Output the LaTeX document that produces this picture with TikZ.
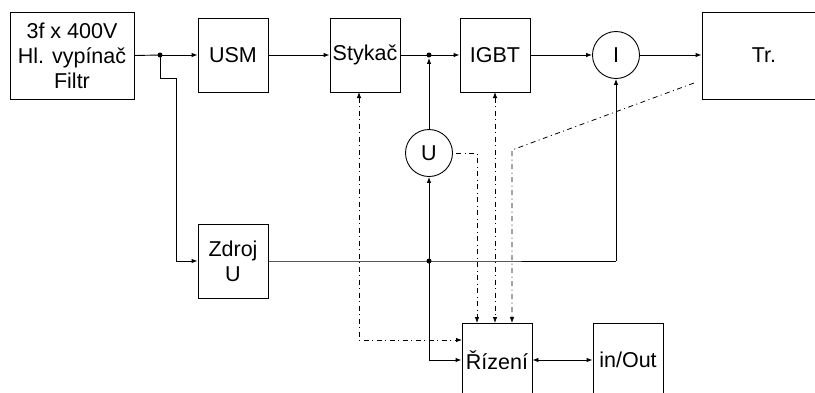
\documentclass[tikz,border=0pt]{standalone}
\usepackage{fontspec}
\setmainfont{Liberation Sans}
\usetikzlibrary{arrows.meta}
\begin{document}
\begin{tikzpicture}[x=1pt,y=-1pt,
  font=\fontsize{21.5}{25}\selectfont,
  line width=0.9pt,
  blk/.style={draw, rectangle, minimum width=70pt, minimum height=74pt, inner sep=1pt, align=center},
  meas/.style={draw, circle, minimum size=47pt, inner sep=0pt},
  arr/.style={-{Latex[length=6pt,width=4.5pt]}},
  darr/.style={{Latex[length=6pt,width=4.5pt]}-{Latex[length=6pt,width=4.5pt]}},
  dd/.style={line width=0.8pt, dash pattern=on 5pt off 3.5pt on 1pt off 3.5pt},
  jdot/.style={fill, circle, inner sep=0pt, minimum size=5pt}]
\useasboundingbox (0,0) rectangle (815,392);

\node[blk, minimum width=124pt, minimum height=87pt] (in) at (72,55.5) {3f x 400V\\Hl. vypínač\\Filtr};
\node[blk] (usm) at (233,55) {USM};
\node[blk] (styk) at (365,55) {Stykač};
\node[blk] (igbt) at (495,55) {IGBT};
\node[meas] (I) at (616,55) {I};
\node[blk, minimum width=124pt, minimum height=87pt] (tr) at (764,55.5) {Tr.};
\node[meas] (U) at (429,153) {U};
\node[blk] (zdroj) at (233,261) {Zdroj\\U};
\node[blk] (riz) at (497,360) {Řízení};
\node[blk] (io) at (628,360) {in/Out};

\node[jdot] (j1) at (160,55) {};
\node[jdot] (j2) at (429,55) {};
\node[jdot] (j3) at (429,261) {};

\coordinate (b1) at (160,78);
\coordinate (b2) at (176,78);
\coordinate (b3) at (176,261);
\coordinate (k1) at (616,261);
\coordinate (k2) at (429,360);

% power path
\draw (in.east) -- (j1.center);
\draw[arr] (j1.center) -- (usm.west);
\draw[arr] (usm) -- (styk);
\draw (styk.east) -- (j2.center);
\draw[arr] (j2.center) -- (igbt.west);
\draw[arr] (igbt) -- (I);
\draw[arr] (I) -- (tr.west |- I.east);
\draw[arr] (U.north) -- (j2.south);

% supply branch
\draw[arr] (j1.center) -- (b1) -- (b2) -- (b3) -- (zdroj.west);
\draw (zdroj.east) -- (j3.center) -- (k1);
\draw[arr] (k1) -- (I.south);
\draw[arr] (j3.center) -- (U.south);
\draw[arr] (j3.center) -- (k2) -- (riz.west |- k2);
\draw[darr] (riz.east |- k2) -- (io.west |- k2);

% control signals
\coordinate (s1) at (359,92);
\coordinate (s2) at (359,340);
\coordinate (s3) at (462,340);
\draw[dd, darr] (s1) -- (s2) -- (s3);

\coordinate (u1) at (456,153);
\coordinate (u2) at (477,153);
\coordinate (u3) at (477,323);
\draw[dd, arr] (u1) -- (u2) -- (u3);

\coordinate (g1) at (495,92);
\coordinate (g2) at (495,323);
\draw[dd, darr] (g1) -- (g2);

\coordinate (t1) at (694,83);
\coordinate (t2) at (512,150);
\coordinate (t3) at (512,323);
\draw[dd, arr] (t1) -- (t2) -- (t3);
\end{tikzpicture}
\end{document}
